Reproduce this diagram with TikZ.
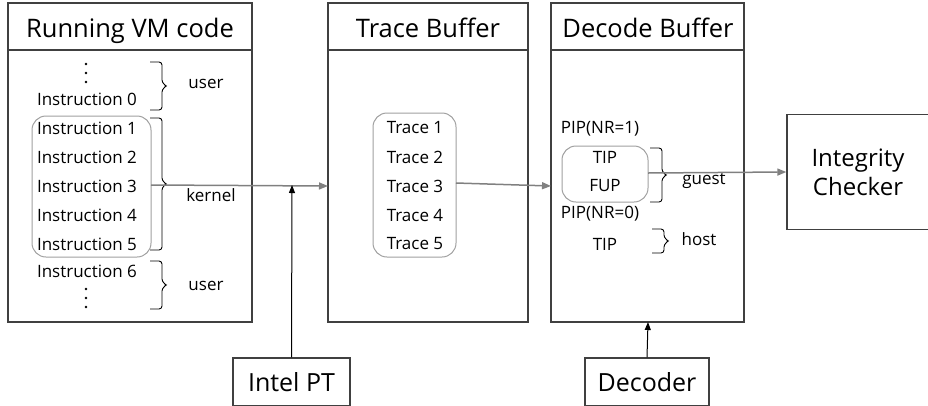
\documentclass[tikz,border=0pt]{standalone}
\usepackage{fontspec}
\setmainfont{Open Sans}
\usetikzlibrary{arrows.meta}
\definecolor{boxline}{RGB}{64,64,64}
\definecolor{arrgray}{RGB}{128,128,128}
\definecolor{rbox}{RGB}{160,160,160}
\tikzset{
  frame/.style={draw=boxline, line width=1.3pt},
  titletxt/.style={font=\fontsize{25.5}{28}\selectfont, anchor=base},
  itxt/.style={font=\fontsize{17}{19}\selectfont, anchor=center, inner sep=0pt},
  rnd/.style={draw=rbox, line width=1pt, rounded corners=14pt},
  brc/.style={draw=black, line width=0.9pt, rounded corners=3pt},
  garrow/.style={draw=arrgray, line width=1.5pt, -{Triangle[length=9pt,width=7pt]}},
  barrow/.style={draw=black, line width=1pt, -{Triangle[length=8pt,width=6pt]}},
  lblbox/.style={draw=boxline, line width=1.3pt, font=\fontsize{25}{28}\selectfont, inner sep=0pt},
  dot/.style={fill=black, circle, inner sep=0pt, minimum size=2.6pt}
}
\newcommand{\vbrace}[3]{%
  \draw[brc] (#1,#2) -- (#1+12,#2) -- (#1+12,{(#2+#3)/2-3}) -- (#1+17,{(#2+#3)/2}) -- (#1+12,{(#2+#3)/2+3}) -- (#1+12,#3) -- (#1,#3);}
\begin{document}
\begin{tikzpicture}[x=1pt,y=-1pt]
\useasboundingbox (0,0) rectangle (928,405);
% main boxes
\draw[frame] (8,3) rectangle (252,322);
\draw[frame] (8,50) -- (252,50);
\node[titletxt] (t1) at (130,37) {Running VM code};
\draw[frame] (328,3) rectangle (528,322);
\draw[frame] (328,50) -- (528,50);
\node[titletxt] (t2) at (428,37) {Trace Buffer};
\draw[frame] (551,3) rectangle (744,322);
\draw[frame] (551,50) -- (744,50);
\node[titletxt] (t3) at (648,37) {Decode Buffer};
% anchor points on boxes
\coordinate (tbleft) at (328,186);
\coordinate (dbleft) at (551,186);
\coordinate (dbbottom) at (648,322);
% integrity checker
\node[lblbox, minimum width=142pt, minimum height=115pt] (ic) at (858,172) {};
\node[font=\fontsize{24}{29}\selectfont, align=center] (ict) at (858,172) {Integrity\\Checker};
% Intel PT and Decoder
\node[lblbox, minimum width=117pt, minimum height=48pt] (ipt) at (291.5,382) {Intel PT};
\node[lblbox, minimum width=124pt, minimum height=48pt] (dec) at (647,382) {Decoder};
% Running VM code contents
\node[dot] (d1a) at (86,64) {};
\node[dot] (d1b) at (86,73) {};
\node[dot] (d1c) at (86,82) {};
\node[itxt] (i0) at (87,99) {Instruction 0};
\node[itxt] (i1) at (87,128) {Instruction 1};
\node[itxt] (i2) at (87,157) {Instruction 2};
\node[itxt] (i3) at (87,186) {Instruction 3};
\node[itxt] (i4) at (87,215) {Instruction 4};
\node[itxt] (i5) at (87,244) {Instruction 5};
\node[itxt] (i6) at (87,271) {Instruction 6};
\node[dot] (d2a) at (86,289) {};
\node[dot] (d2b) at (86,298) {};
\node[dot] (d2c) at (86,307) {};
\draw[rnd] (32,116) rectangle (151,257);
\coordinate (rb1) at (151,185);
\vbrace{150}{62}{110}
\vbrace{150}{118}{250}
\vbrace{150}{261}{309}
\node[itxt] (u1) at (206,84) {user};
\node[itxt] (k1) at (211,195) {kernel};
\node[itxt] (u2) at (206,286) {user};
% Trace buffer
\draw[rnd] (373,113) rectangle (456,257);
\coordinate (rb2) at (456,183);
\node[itxt] (tr1) at (415,128) {Trace 1};
\node[itxt] (tr2) at (415,157) {Trace 2};
\node[itxt] (tr3) at (415,186) {Trace 3};
\node[itxt] (tr4) at (415,215) {Trace 4};
\node[itxt] (tr5) at (415,244) {Trace 5};
% Decode buffer
\node[itxt] (p1) at (600,129) {PIP(NR=1)};
\draw[rnd] (562,146) rectangle (648,202);
\coordinate (rb3) at (648,173);
\node[itxt] (tip1) at (605,157) {TIP};
\node[itxt] (fup) at (605,186) {FUP};
\vbrace{650}{148}{202}
\node[itxt] (g) at (704,181) {guest};
\node[itxt] (p0) at (600,214) {PIP(NR=0)};
\node[itxt] (tip2) at (605,244) {TIP};
\vbrace{652}{229}{253}
\node[itxt] (h) at (699,239) {host};
% arrows
\draw[garrow] (rb1) -- (tbleft);
\draw[garrow] (rb2) -- (dbleft);
\draw[garrow] (rb3) -- (ic.west);
\coordinate (ptin) at (292,185);
\draw[barrow] (ipt.north) -- (ptin);
\draw[barrow] (dec.north) -- (dbbottom);
\end{tikzpicture}
\end{document}
